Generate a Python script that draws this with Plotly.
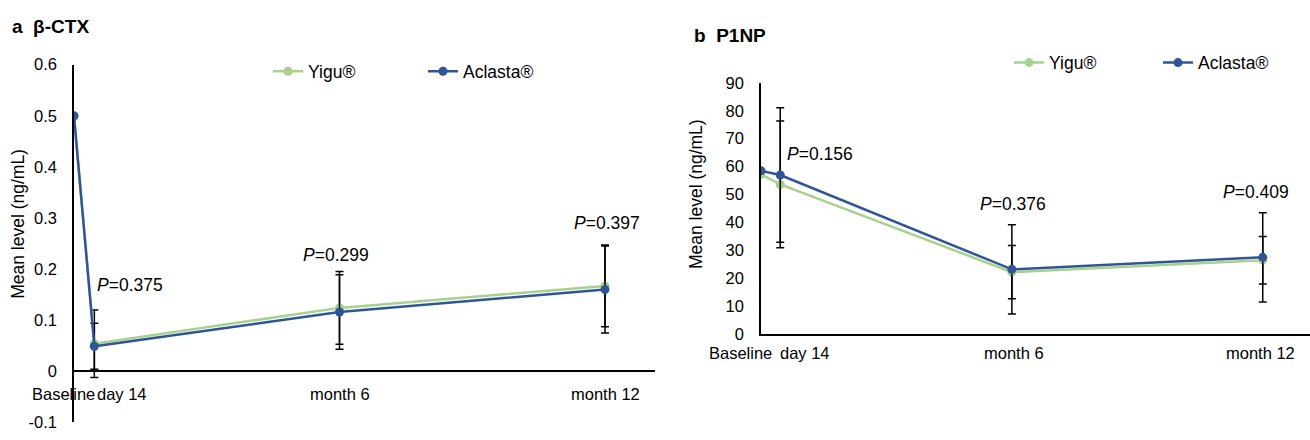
import plotly.graph_objects as go

# ---------------- data ----------------
categories = ["Baseline", "day 14", "month 6", "month 12"]
time_months = [0, 0.46, 6, 12]

ctx_yigu = [0.498, 0.054, 0.124, 0.167]
ctx_yigu_sd = [None, 0.066, 0.071, 0.080]
ctx_aclasta = [0.500, 0.049, 0.116, 0.160]
ctx_aclasta_sd = [None, 0.045, 0.073, 0.085]
ctx_pvalues = ["0.375", "0.299", "0.397"]

p1np_yigu = [57.2, 53.6, 22.2, 26.5]
p1np_yigu_sd = [None, 22.7, 9.5, 8.5]
p1np_aclasta = [58.5, 57.0, 23.2, 27.5]
p1np_aclasta_sd = [None, 24.1, 16.0, 16.0]
p1np_pvalues = ["0.156", "0.376", "0.409"]

ctx_yticks = [-0.1, 0, 0.1, 0.2, 0.3, 0.4, 0.5, 0.6]
ctx_yticklabels = ["-0.1", "0", "0.1", "0.2", "0.3", "0.4", "0.5", "0.6"]
p1np_yticks = [0, 10, 20, 30, 40, 50, 60, 70, 80, 90]
p1np_yticklabels = ["0", "10", "20", "30", "40", "50", "60", "70", "80", "90"]

series_names = ["Yigu®", "Aclasta®"]

# ---------------- style ----------------
FONT = "Liberation Sans, Arial, sans-serif"
GREEN = "#A9D18E"
BLUE = "#2F5597"
W, H = 1310, 440

fig = go.Figure()


def add_series(y, sd, name, color, xa, ya, legend):
    fig.add_trace(go.Scatter(
        x=time_months, y=y, name=name, mode="lines+markers",
        line=dict(color=color, width=2.5),
        marker=dict(color=color, size=9),
        error_y=dict(type="data", array=sd, visible=True, color="black",
                     thickness=1.5, width=4),
        xaxis=xa, yaxis=ya, legend=legend, showlegend=True,
    ))


add_series(ctx_yigu, ctx_yigu_sd, series_names[0], GREEN, "x", "y", "legend")
add_series(ctx_aclasta, ctx_aclasta_sd, series_names[1], BLUE, "x", "y", "legend")
add_series(p1np_yigu, p1np_yigu_sd, series_names[0], GREEN, "x2", "y2", "legend2")
add_series(p1np_aclasta, p1np_aclasta_sd, series_names[1], BLUE, "x2", "y2", "legend2")

XMAX = 13.13
axis_common = dict(showgrid=False, ticks="", color="black")

annotations = []

# panel titles
annotations.append(dict(text="<b>a  β-CTX</b>", x=10 / W, y=1 - 18 / H, xref="paper", yref="paper",
                        xanchor="left", yanchor="middle", showarrow=False,
                        font=dict(family=FONT, size=19, color="black")))
annotations.append(dict(text="<b>b  P1NP</b>", x=692 / W, y=1 - 28 / H, xref="paper", yref="paper",
                        xanchor="left", yanchor="middle", showarrow=False,
                        font=dict(family=FONT, size=19, color="black")))

# y-axis titles
for xp, yp in [(18, 224), (696, 193)]:
    annotations.append(dict(text="Mean level (ng/mL)", x=xp / W, y=1 - yp / H, xref="paper", yref="paper",
                            xanchor="center", yanchor="middle", textangle=-90, showarrow=False,
                            font=dict(family=FONT, size=17.5, color="black")))

# category labels (x tick labels)
label_shift = {"x": [-11, 28, 0, 0], "x2": [-21, 25, 2, -2]}
label_y = {"x": 1 - 401 / H, "x2": 1 - 359 / H}
for xa in ["x", "x2"]:
    for i, cat in enumerate(categories):
        annotations.append(dict(text=cat, x=time_months[i], xref=xa, y=label_y[xa], yref="paper",
                                xanchor="center", yanchor="middle", xshift=label_shift[xa][i],
                                showarrow=False, font=dict(family=FONT, size=16.5, color="black")))

# P-value labels
p_pos = {
    "x": [(1, 0.169, "left", 1), (2, 0.227, "center", -4), (3, 0.291, "center", 2)],
    "x2": [(1, 64.6, "left", 5), (2, 46.7, "center", 1), (3, 51.0, "center", -7)],
}
for xa, ya, pv in [("x", "y", ctx_pvalues), ("x2", "y2", p1np_pvalues)]:
    for (idx, yv, anc, sh), p in zip(p_pos[xa], pv):
        annotations.append(dict(text=f"<i>P</i>={p}", x=time_months[idx], y=yv, xref=xa, yref=ya,
                                xanchor=anc, yanchor="middle", xshift=sh, showarrow=False,
                                font=dict(family=FONT, size=17.5, color="black")))

fig.update_layout(
    width=W, height=H,
    margin=dict(l=0, r=0, t=0, b=0),
    paper_bgcolor="white", plot_bgcolor="white",
    font=dict(family=FONT, size=16, color="black"),
    xaxis=dict(domain=[74 / W, 655 / W], range=[0, XMAX], showticklabels=False,
               showline=False, zeroline=False, anchor="y", **axis_common),
    yaxis=dict(domain=[9 / H, 382 / H], range=[-0.1, 0.6], tickvals=ctx_yticks, ticktext=ctx_yticklabels,
               showline=True, linecolor="black", linewidth=1.5,
               zeroline=True, zerolinecolor="black", zerolinewidth=1.5,
               ticklabelstandoff=12, tickfont=dict(family=FONT, size=16.5, color="black"),
               anchor="x", **axis_common),
    xaxis2=dict(domain=[761 / W, 1.0], range=[0, XMAX], showticklabels=False,
                showline=True, linecolor="black", linewidth=1.5, zeroline=False,
                anchor="y2", **axis_common),
    yaxis2=dict(domain=[(H - 339) / H, (H - 77) / H], range=[0, 90], tickvals=p1np_yticks,
                ticktext=p1np_yticklabels, showline=True, linecolor="black", linewidth=1.5,
                zeroline=False, ticklabelstandoff=12,
                tickfont=dict(family=FONT, size=16.5, color="black"),
                anchor="x2", **axis_common),
    legend=dict(orientation="h", x=268 / W, y=1 - 65 / H, xanchor="left", yanchor="middle",
                entrywidth=110, font=dict(family=FONT, size=17.5, color="black"),
                bgcolor="rgba(0,0,0,0)", itemclick=False),
    legend2=dict(orientation="h", x=1009 / W, y=1 - 56 / H, xanchor="left", yanchor="middle",
                 entrywidth=104, font=dict(family=FONT, size=17.5, color="black"),
                 bgcolor="rgba(0,0,0,0)", itemclick=False),
    annotations=annotations,
)

fig.write_html("out.html", post_script="document.body.style.margin='0';",
               config={"displayModeBar": False})
